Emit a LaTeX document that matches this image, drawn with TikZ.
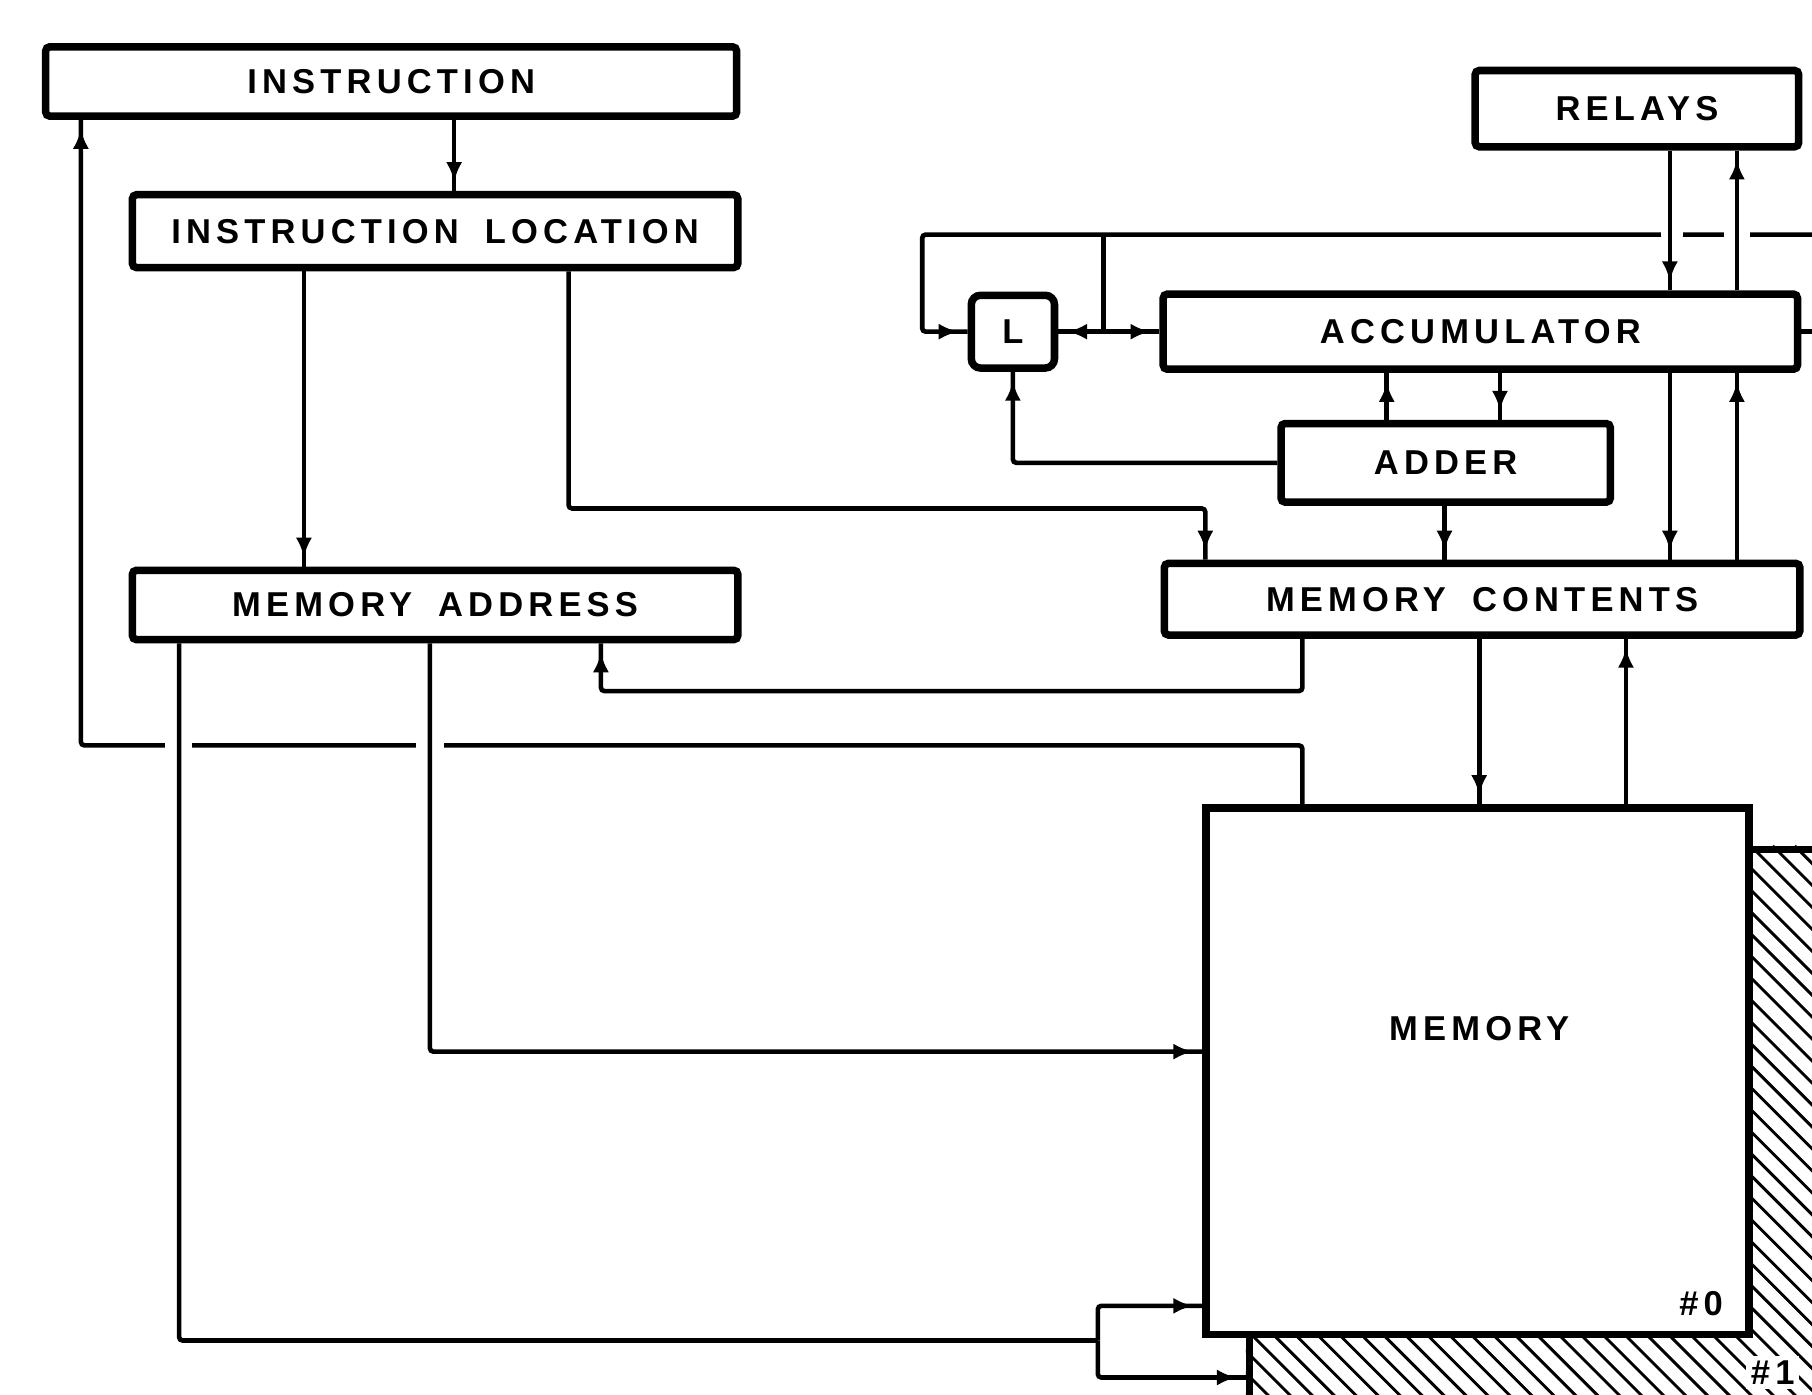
\documentclass[tikz,border=0pt]{standalone}
\usepackage{fontspec}
\setmainfont{Liberation Sans}
\newfontfamily\lblfont[LetterSpace=15]{Liberation Sans}
\newcommand{\wgap}{\hspace{0.45cm}}
\usetikzlibrary{arrows.meta,decorations.markings}
\tikzset{
  box/.style={draw, line width=0.13cm, rounded corners=0.07cm, inner sep=0pt, fill=white,
    font=\lblfont\bfseries\fontsize{17}{20}\selectfont},
  lbl/.style={inner sep=0pt, font=\lblfont\bfseries\fontsize{17}{20}\selectfont},
  membox/.style={draw, line width=0.13cm, inner sep=0pt},
  wire/.style={line width=0.08cm, rounded corners=0.06cm},
  conn/.style={wire, postaction={decorate},
    decoration={markings, mark=at position -0.16cm with {\arrow{Latex[length=0.34cm,width=0.28cm]}}}},
  gapw/.style={white, line width=0.22cm},
  hatch/.style={line width=0.05cm},
}
\begin{document}
\begin{tikzpicture}[x=0.02cm,y=-0.02cm]
\useasboundingbox (0,0) rectangle (1568,1207);
\clip (0,0) rectangle (1568,1207);

% memory bank #1 (hatched, behind)
\begin{scope}
  \clip (1078,732) rectangle (1700,1300);
  \foreach \k in {-40,...,45} \draw[hatch] (1078+\k*19,732) -- ++(700,700);
\end{scope}
\node[membox, minimum width=12.44cm, minimum height=11.36cm, anchor=north west] (mem1) at (1078,732) {};

% memory bank #0
\node[membox, fill=white, minimum width=9.40cm, minimum height=9.12cm] (mem) at (1278.5,927) {};
\node[lbl] (memtxt) at (1280,890) {MEMORY};
\node[lbl] (n0) at (1472,1128) {\#0};
\node[lbl, fill=white, inner sep=0.08cm] (n1) at (1534,1188) {\#1};

% registers
\node[box, minimum width=11.96cm, minimum height=1.20cm] (instr) at (338.5,70.5) {INSTRUCTION};
\node[box, minimum width=10.48cm, minimum height=1.26cm] (iloc) at (376.5,200) {INSTRUCTION\wgap LOCATION};
\node[box, minimum width=10.48cm, minimum height=1.20cm] (maddr) at (376.5,523.5) {MEMORY\wgap ADDRESS};
\node[box, minimum width=5.60cm, minimum height=1.32cm] (relays) at (1416.5,94) {RELAYS};
\node[box, rounded corners=0.16cm, minimum width=1.44cm, minimum height=1.26cm] (L) at (876.5,287) {L};
\node[box, minimum width=10.98cm, minimum height=1.30cm] (acc) at (1281,287) {ACCUMULATOR};
\node[box, minimum width=5.70cm, minimum height=1.36cm] (adder) at (1251,400.5) {ADDER};
\node[box, minimum width=11.00cm, minimum height=1.24cm] (mc) at (1282.5,518.5) {MEMORY\wgap CONTENTS};

% top bus
\coordinate (busR) at (1580,203);
\coordinate (busL) at (798,203);
\coordinate (jn) at (955,287);
\draw[conn] (busR) -- (busL) |- (L.west);
\draw[wire] (jn |- busL) -- (jn);
\draw[conn] (jn) -- (L.east);
\draw[conn] (jn) -- (acc.west |- jn);
\draw[gapw] (1437,203) -- (1456,203);
\draw[gapw] (1492,203) -- (1514,203);
\coordinate (accR) at (1580,287);
\draw[wire] (acc.east) -- (accR);

% relays <-> accumulator
\draw[conn] (relays.south -| 1445,0) -- (acc.north -| 1445,0);
\draw[conn] (acc.north -| 1503,0) -- (relays.south -| 1503,0);

% accumulator / adder / memory contents
\draw[conn] (acc.south -| 1445,0) -- (mc.north -| 1445,0);
\draw[conn] (mc.north -| 1503,0) -- (acc.south -| 1503,0);
\draw[conn] (adder.north -| 1200,0) -- (acc.south -| 1200,0);
\draw[conn] (acc.south -| 1298,0) -- (adder.north -| 1298,0);
\draw[conn] (adder.south -| 1250,0) -- (mc.north -| 1250,0);
\draw[conn] (adder.west) -| (L.south);

% memory contents <-> memory
\draw[conn] (mc.south -| 1280,0) -- (mem.north -| 1280,0);
\draw[conn] (mem.north -| 1407,0) -- (mc.south -| 1407,0);

% instruction path
\draw[conn] (instr.south -| 393,0) -- (iloc.north -| 393,0);
\draw[conn] (iloc.south -| 263,0) -- (maddr.north -| 263,0);
\draw[conn] (iloc.south -| 492,0) -- (492,440) -| (mc.north -| 1043,0);
\draw[conn] (mc.south -| 1127,0) -- (1127,598) -| (maddr.south -| 520,0);
\draw[conn] (mem.north -| 1127,0) -- (1127,645) -| (instr.south -| 70,0);
\draw[gapw] (143,645) -- (166,645);
\draw[gapw] (360,645) -- (384,645);

% memory address -> memory
\draw[conn] (maddr.south -| 372,0) |- (mem.west |- 0,910);
\coordinate (split) at (950,1160);
\draw[wire] (maddr.south -| 155,0) |- (split);
\draw[conn] (split) -- (950,1130) -- (mem.west |- 0,1130);
\draw[conn] (split) -- (950,1192) -- (mem1.west |- 0,1192);
\end{tikzpicture}
\end{document}
